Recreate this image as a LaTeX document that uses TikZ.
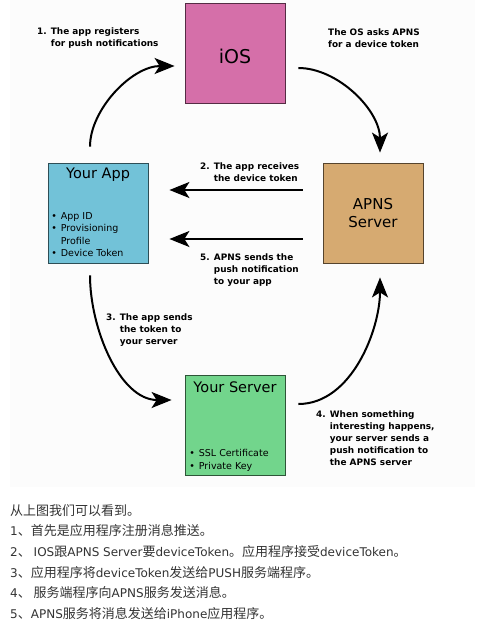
\documentclass[tikz,border=0pt]{standalone}
\usepackage{fontspec}
\setmainfont{DejaVu Sans}
\newfontfamily\cjk{Noto Sans CJK SC}
\usetikzlibrary{arrows.meta}

\definecolor{iospink}{HTML}{D56FA9}
\definecolor{appblau}{HTML}{72C2D8}
\definecolor{apnsbraun}{HTML}{D6AA71}
\definecolor{servergruen}{HTML}{72D58C}

% lateinische Teile im chinesischen Text
\newcommand\lateinisch[1]{{\rmfamily\fontsize{12}{16}\selectfont #1}}

\tikzset{
    kasten/.style={draw=#1!40!black, fill=#1, line width=0.8pt, minimum width=100pt, minimum height=100pt, inner sep=0pt},
    pfeil/.style={-{Stealth[length=20pt,width=16pt,inset=5pt]}, line width=2pt},
    schritt/.style={font=\fontsize{8.9}{12}\selectfont\bfseries, align=left, anchor=north west, inner sep=0pt},
    liste/.style={font=\fontsize{9.5}{12.5}\selectfont, inner sep=0pt, anchor=south west},
    titel/.style={font=\fontsize{14.5}{17}\selectfont, inner sep=0pt, anchor=north}
}

\begin{document}
\begin{tikzpicture}[x=1pt,y=1pt]
            \useasboundingbox (0,0) rectangle (490,-623);
            \fill[black!1] (10,0) rectangle (475,-487);

            % Kaesten
            \node[kasten=iospink] (ios) at (235,-53.5) {};
            \node[kasten=appblau] (app) at (98,-213) {};
            \node[kasten=apnsbraun] (apns) at (373,-213) {};
            \node[kasten=servergruen] (server) at (235,-425) {};

            % Inhalt der Kaesten
            \node[font=\fontsize{19}{22}\selectfont, inner sep=0pt] (iostext) at ([yshift=-3pt]ios.center) {iOS};
            \node[font=\fontsize{15}{18}\selectfont, align=center, inner sep=0pt] (apnstext) at (apns.center) {APNS\\Server};
            \node[titel] (apptitel) at ([yshift=-5pt]app.north) {Your App};
            \node[titel] (servertitel) at ([yshift=-6.5pt]server.north) {Your Server};
            \node[liste] (appliste) at ([shift={(3.5pt,2.5pt)}]app.south west) {%
                \begin{tabular}{@{}l@{\hspace{4pt}}l@{}}
                    \textbullet & App ID\\
                    \textbullet & Provisioning\\
                                & Profile\\
                    \textbullet & Device Token
                \end{tabular}};
            \node[liste] (serverliste) at ([shift={(4.5pt,2.25pt)}]server.south west) {%
                \begin{tabular}{@{}l@{\hspace{4pt}}l@{}}
                    \textbullet & SSL Certificate\\
                    \textbullet & Private Key
                \end{tabular}};

            % Pfeile
            \draw[pfeil, shorten <=16pt, shorten >=10pt] ([xshift=-8pt]app.north) to[out=90, in=180] ([yshift=-12.5pt]ios.west);
            \draw[pfeil, shorten <=13pt, shorten >=10pt] ([yshift=-14.5pt]ios.east) to[out=0, in=90] ([xshift=7pt]apns.north);
            \draw[pfeil, shorten <=20pt, shorten >=21pt] ([yshift=23pt]apns.west) -- ([yshift=23pt]app.east);
            \draw[pfeil, shorten <=20pt, shorten >=21pt] ([yshift=-26pt]apns.west) -- ([yshift=-26pt]app.east);
            \draw[pfeil, shorten <=12pt, shorten >=13pt] ([xshift=-8pt]app.south) to[out=-90, in=180] ([yshift=25pt]server.west);
            \draw[pfeil, shorten <=13pt, shorten >=14pt] ([yshift=21pt]server.east) to[out=0, in=-90] ([xshift=7pt]apns.south);

            % Beschriftung
            \node[schritt] (schritt1) at (37,-28) {1. The app registers\\\phantom{1. }for push notifications};
            \node[schritt] (schrittos) at (328,-29) {The OS asks APNS\\for a device token};
            \node[schritt] (schritt2) at (200,-163) {2. The app receives\\\phantom{2. }the device token};
            \node[schritt] (schritt5) at (200,-254) {5. APNS sends the\\\phantom{5. }push notification\\\phantom{5. }to your app};
            \node[schritt] (schritt3) at (106,-314) {3. The app sends\\\phantom{3. }the token to\\\phantom{3. }your server};
            \node[schritt] (schritt4) at (316,-411) {4. When something\\\phantom{4. }interesting happens,\\\phantom{4. }your server sends a\\\phantom{4. }push notification to\\\phantom{4. }the APNS server};

            % Text unten
            \foreach \zeile [count=\i] in {从上图我们可以看到。,
                    \lateinisch{1}、首先是应用程序注册消息推送。,
                    \lateinisch{2}、 \lateinisch{IOS}跟\lateinisch{APNS Server}要\lateinisch{deviceToken}。应用程序接受\lateinisch{deviceToken}。,
                    \lateinisch{3}、应用程序将\lateinisch{deviceToken}发送给\lateinisch{PUSH}服务端程序。,
                    \lateinisch{4}、 服务端程序向\lateinisch{APNS}服务发送消息。,
                    \lateinisch{5}、\lateinisch{APNS}服务将消息发送给\lateinisch{iPhone}应用程序。}
                \node[anchor=base west, inner sep=0pt, text=black!80, font=\cjk\fontsize{13}{16}\selectfont] (zeile\i) at (10,{-515-20.7*(\i-1)}) {\zeile};
\end{tikzpicture}
\end{document}
